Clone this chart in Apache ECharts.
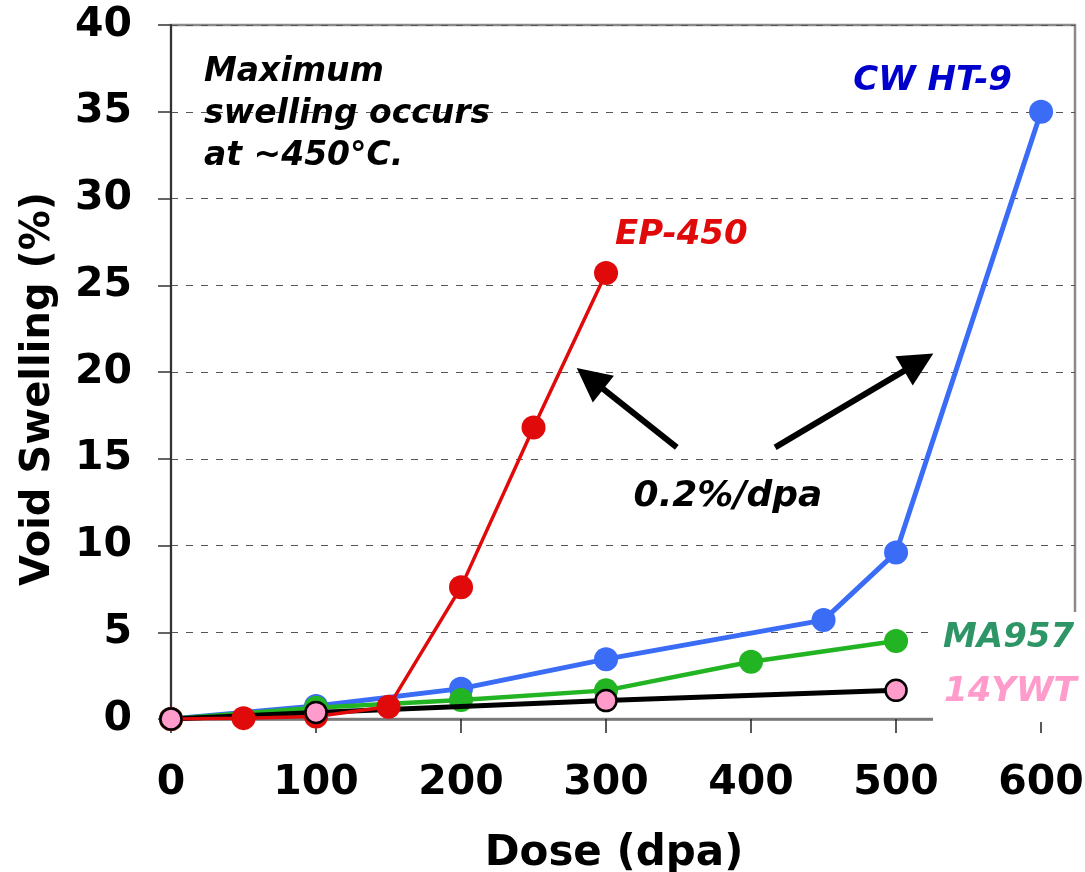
<!DOCTYPE html>
<html>
<head>
<meta charset="utf-8">
<script src="https://cdn.jsdelivr.net/npm/echarts@6/dist/echarts.min.js"></script>
<style>
html,body{margin:0;padding:0;background:#fff;}
#chart{width:1085px;height:872px;}
</style>
</head>
<body>
<div id="chart"></div>
<script>
// ---- data ----
const xTicks = [0, 100, 200, 300, 400, 500, 600];
const epDose = [0, 50, 100, 150, 200, 250, 300];
const epSwell = [0, 0.05, 0.15, 0.7, 7.6, 16.8, 25.7];
const htDose = [0, 100, 200, 300, 450, 500, 600];
const htSwell = [0, 0.75, 1.75, 3.45, 5.7, 9.6, 35.0];
const maDose = [0, 100, 200, 300, 400, 500];
const maSwell = [0, 0.65, 1.1, 1.65, 3.3, 4.5];
const ywtDose = [0, 100, 300, 500];
const ywtSwell = [0, 0.38, 1.06, 1.65];
// annotation arrows (tail -> tip) in data coordinates
const arrowTails = [[348.8, 15.66], [416.6, 15.66]];
const arrowTips = [[279.8, 20.23], [525.7, 21.06]];
const noteLines = ['Maximum', 'swelling occurs', 'at ~450°C.'];

const pairs = (xs, ys) => xs.map((x, i) => [x, ys[i]]);
const FONT = "'DejaVu Sans', Verdana, sans-serif";

const chart = echarts.init(document.getElementById('chart'), null, {renderer: 'canvas'});

const option = {
  animation: false,
  backgroundColor: '#ffffff',
  grid: {
    left: 171, top: 25, right: 10, bottom: 153,
    outerBoundsMode: 'none', containLabel: false,
    show: true, borderColor: '#8a8a8a', borderWidth: 2.5, backgroundColor: 'transparent'
  },
  xAxis: {
    type: 'value', min: 0, max: 623.4,
    name: 'Dose (dpa)', nameLocation: 'middle', nameGap: 114,
    nameTextStyle: {fontFamily: FONT, fontWeight: 'bold', fontSize: 42, color: '#000', padding: [0, 18, 0, 0]},
    axisLine: {show: true, lineStyle: {color: '#777', width: 2.5}},
    axisTick: {show: true, customValues: xTicks, length: 14, lineStyle: {color: '#222', width: 1.5}},
    axisLabel: {customValues: xTicks, margin: 44, fontFamily: FONT, fontWeight: 'bold', fontSize: 41, color: '#000'},
    splitLine: {show: false}
  },
  yAxis: {
    type: 'value', min: 0, max: 40, interval: 5,
    name: 'Void Swelling (%)', nameLocation: 'middle', nameGap: 112,
    nameTextStyle: {fontFamily: FONT, fontWeight: 'bold', fontSize: 40, color: '#000', padding: [0, 34, 0, 0]},
    axisLine: {show: true, lineStyle: {color: '#333', width: 2}},
    axisTick: {show: true, length: 13, lineStyle: {color: '#333', width: 1.5}},
    axisLabel: {margin: 39, fontFamily: FONT, fontWeight: 'bold', fontSize: 41, color: '#000'},
    splitLine: {show: true, lineStyle: {color: '#555', width: 1, type: [7, 8]}}
  },
  series: [
    {name: 'CW HT-9', type: 'line', data: pairs(htDose, htSwell), symbol: 'circle', symbolSize: 24,
     lineStyle: {color: '#3a6cf6', width: 5}, itemStyle: {color: '#3a6cf6'}, z: 2},
    {name: 'MA957', type: 'line', data: pairs(maDose, maSwell), symbol: 'circle', symbolSize: 24,
     lineStyle: {color: '#22b422', width: 4.5}, itemStyle: {color: '#22b422'}, z: 3},
    {name: '14YWT line', type: 'line', data: pairs(ywtDose, ywtSwell), showSymbol: false, symbol: 'none',
     lineStyle: {color: '#000', width: 5}, z: 4},
    {name: 'EP-450', type: 'line', data: pairs(epDose, epSwell), symbol: 'circle', symbolSize: 24,
     lineStyle: {color: '#e00a0a', width: 3.5}, itemStyle: {color: '#e00a0a'}, z: 5},
    {name: '14YWT', type: 'scatter', data: pairs(ywtDose, ywtSwell), symbol: 'circle', symbolSize: 21,
     clip: false, itemStyle: {color: '#ff9ccc', borderColor: '#000', borderWidth: 2.5, opacity: 1}, z: 6}
  ]
};
chart.setOption(option);

function txt(x, y, s, color, size, align) {
  return {type: 'text', x: x, y: y, z: 200,
    style: {text: s, fill: color, font: 'italic bold ' + size + 'px ' + FONT, align: align || 'left', verticalAlign: 'middle'}};
}

const g = [];
// white label box (covers the frame under the right-hand labels)
g.push({type: 'rect', shape: {x: 933, y: 612, width: 160, height: 110}, style: {fill: '#fff'}, z: 150});
// arrows
arrowTails.forEach((t, i) => {
  const a = chart.convertToPixel({gridIndex: 0}, t);
  const b = chart.convertToPixel({gridIndex: 0}, arrowTips[i]);
  const dx = b[0] - a[0], dy = b[1] - a[1];
  const L = Math.sqrt(dx * dx + dy * dy);
  const ux = dx / L, uy = dy / L, px = -uy, py = ux;
  const hl = 34, hw = 17;
  const bx = b[0] - ux * hl, by = b[1] - uy * hl;
  g.push({type: 'line', shape: {x1: a[0], y1: a[1], x2: bx + ux * 2, y2: by + uy * 2}, style: {stroke: '#000', lineWidth: 6}, z: 120});
  g.push({type: 'polygon', shape: {points: [[b[0], b[1]], [bx + px * hw, by + py * hw], [bx - px * hw, by - py * hw]]}, style: {fill: '#000'}, z: 120});
});
// texts
const noteY = [72, 114, 156];
noteLines.forEach((s, i) => g.push(txt(204, noteY[i], s, '#000', 33)));
g.push(txt(1012, 81, 'CW HT-9', '#0000cc', 34, 'right'));
g.push(txt(615, 235, 'EP-450', '#e00a0a', 34));
g.push(txt(943, 638, 'MA957', '#2e9666', 34));
g.push(txt(944, 692, '14YWT', '#ff9ccc', 34));
g.push(txt(728, 497, '0.2%/dpa', '#000', 36, 'center'));
chart.setOption({graphic: {elements: g}});
</script>
</body>
</html>
